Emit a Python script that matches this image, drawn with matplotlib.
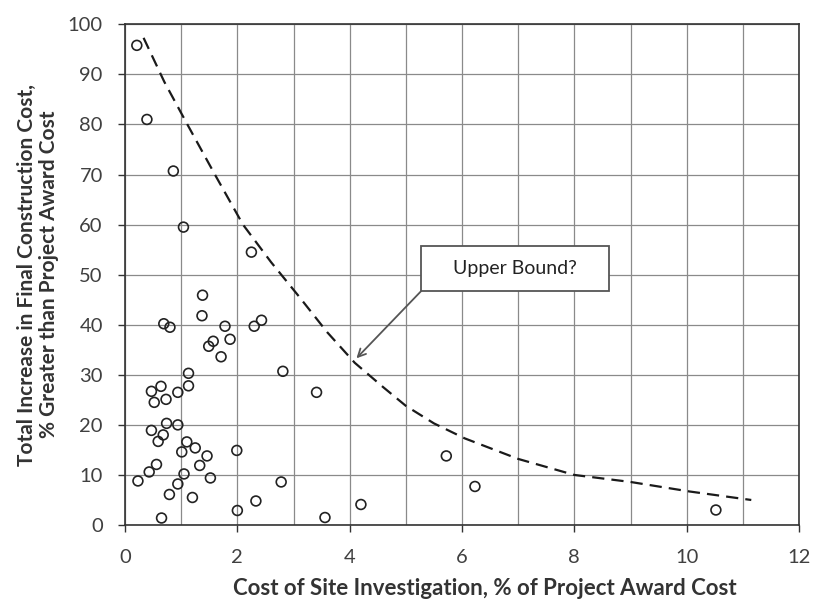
import matplotlib
matplotlib.use('Agg')
import matplotlib.pyplot as plt
from matplotlib.patches import Rectangle
from matplotlib.ticker import MultipleLocator

plt.rcParams['font.family'] = ['Lato', 'DejaVu Sans']

# Site investigation cost vs. construction cost overrun (both in % of award cost)
site_cost = [0.21, 0.39, 0.86, 1.04, 2.25, 1.38, 1.37, 0.69, 0.80, 1.78,
             2.30, 2.43, 1.57, 1.49, 1.87, 1.71, 2.81, 1.13, 1.13, 0.64,
             0.47, 0.94, 0.52, 0.73, 3.41, 0.74, 0.94, 0.47, 0.68, 0.59,
             1.10, 1.25, 1.01, 1.99, 1.46, 1.33, 0.56, 0.43, 1.05, 1.52,
             0.23, 2.78, 0.94, 0.79, 1.20, 2.33, 2.00, 0.65, 3.56, 4.20,
             5.72, 6.23, 10.52]
cost_increase = [95.8, 81.0, 70.7, 59.5, 54.5, 45.9, 41.8, 40.2, 39.5, 39.7,
                 39.7, 40.9, 36.7, 35.7, 37.1, 33.6, 30.7, 30.3, 27.8, 27.7,
                 26.7, 26.5, 24.5, 25.1, 26.5, 20.3, 20.0, 18.9, 18.0, 16.7,
                 16.6, 15.4, 14.6, 14.9, 13.8, 11.9, 12.1, 10.6, 10.2, 9.4,
                 8.8, 8.6, 8.2, 6.1, 5.5, 4.8, 2.9, 1.4, 1.5, 4.1,
                 13.8, 7.7, 3.0]

# Hand-drawn upper bound envelope
bound_x = [0.33, 0.70, 1.11, 1.60, 2.10, 2.60, 3.10, 3.60, 4.09, 4.60,
           5.00, 5.50, 6.05, 7.00, 8.00, 9.00, 10.05, 11.15]
bound_y = [97.3, 88.5, 80.0, 70.0, 60.0, 52.5, 45.6, 38.5, 32.4, 27.5,
           23.8, 20.3, 17.3, 13.2, 10.0, 8.6, 6.7, 5.0]

x_ticks = [0, 2, 4, 6, 8, 10, 12]
y_ticks = [0, 10, 20, 30, 40, 50, 60, 70, 80, 90, 100]

fig = plt.figure(figsize=(8.14, 5.99), dpi=100)
ax = fig.add_axes([0.1536, 0.1235, 0.8280, 0.8359])

ax.set_xlim(0, 12)
ax.set_ylim(0, 100)
ax.set_xticks(x_ticks)
ax.set_yticks(y_ticks)
ax.xaxis.set_minor_locator(MultipleLocator(1))
ax.grid(True, which='both', color='#8a8a8a', linewidth=0.9)
ax.set_axisbelow(True)
ax.tick_params(axis='both', which='major', direction='out', length=5, width=1.0,
               color='#333333', labelsize=14.5, labelcolor='#404040')
ax.tick_params(axis='x', which='major', pad=12)
ax.tick_params(axis='y', which='major', pad=11)
ax.tick_params(axis='x', which='minor', length=0)
for side in ['left', 'bottom', 'top', 'right']:
    ax.spines[side].set_color('#333333')
    ax.spines[side].set_linewidth(1.2)

ax.scatter(site_cost, cost_increase, s=50, facecolors='none', edgecolors='#222222',
           linewidths=1.2, zorder=3)

bound_line, = ax.plot(bound_x, bound_y, color='#1a1a1a', linewidth=1.6, zorder=2)
bound_line.set_dashes((5.5, 3.2))

# Callout box pointing at the envelope
box = Rectangle((5.27, 46.7), 3.34, 9.0, facecolor='white', edgecolor='#555555',
                linewidth=1.3, zorder=4)
ax.add_patch(box)
ax.text(6.94, 51.2, 'Upper Bound?', fontsize=14, color='#222222',
        ha='center', va='center', zorder=5)
ax.annotate('', xy=(4.12, 33.3), xytext=(5.27, 46.7),
            arrowprops=dict(arrowstyle='->', color='#555555', lw=1.3,
                            shrinkA=0, shrinkB=0, mutation_scale=14), zorder=4)

ax.set_xlabel('Cost of Site Investigation, % of Project Award Cost',
              fontsize=16, fontweight='bold', color='#333333')
ax.xaxis.set_label_coords(0.534, -0.105)
ax.set_ylabel('Total Increase in Final Construction Cost,\n% Greater than Project Award Cost',
              fontsize=15, fontweight='bold', color='#333333', labelpad=6,
              linespacing=1.15)

fig.savefig('out.png', dpi=100)
